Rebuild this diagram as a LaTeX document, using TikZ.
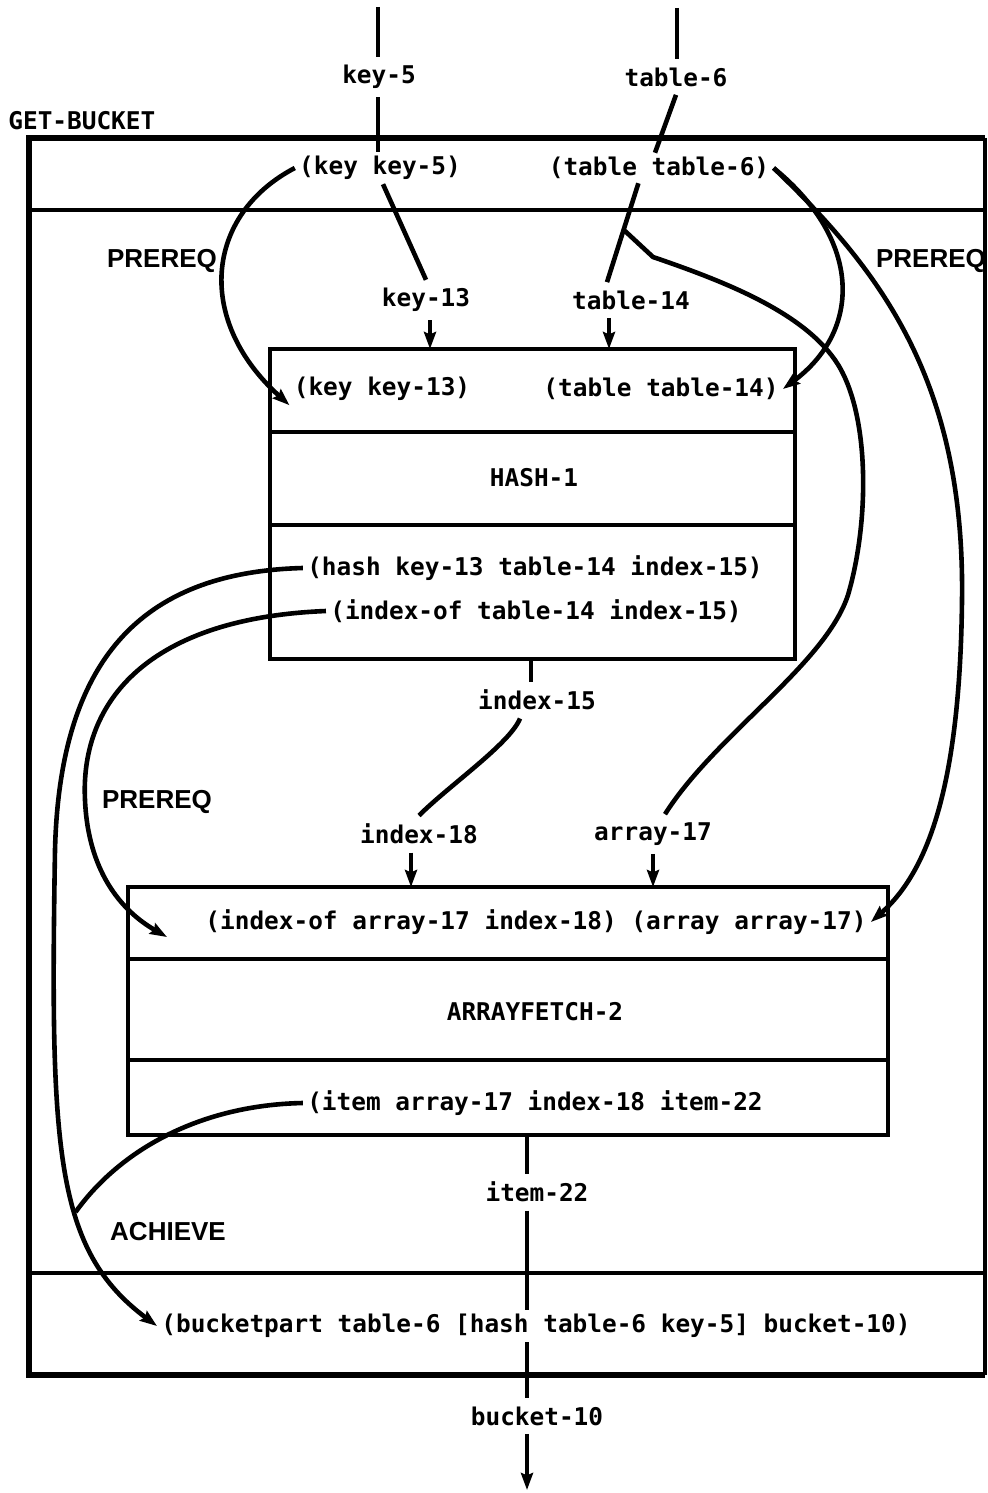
\documentclass[tikz,border=0pt]{standalone}
\usepackage{fontspec}
\newfontfamily\monofont{DejaVu Sans Mono}
\newfontfamily\tagfont{Liberation Sans}
\usetikzlibrary{arrows.meta,calc}

\begin{document}
\begin{tikzpicture}[x=0.5pt,y=-0.5pt,
  txt/.style={font=\monofont\bfseries\fontsize{12.2}{14}\selectfont, inner sep=2pt},
  var/.style={txt, inner sep=4pt},
  tag/.style={font=\tagfont\bfseries\fontsize{13}{15}\selectfont, inner sep=0pt},
  wire/.style={line width=2.3pt},
  flow/.style={wire, -{Stealth[length=8.5pt,width=6pt,inset=1.2pt]}},
  frame/.style={line width=3.4pt, line join=miter},
  cell/.style={line width=2.3pt},
  boxnode/.style={draw, cell, anchor=north west, inner sep=0pt, outer sep=0pt},
]
\useasboundingbox (0,0) rectangle (988,1493);

% outer GET-BUCKET frame
\coordinate (gbNW) at (29,138);
\coordinate (gbSE) at (985,1375);
\draw[frame] (gbSE |- gbNW) -- (gbNW) -- (gbNW |- gbSE) -- (gbSE);
\draw[line width=2.2pt] (gbSE |- gbNW) -- (gbSE);
\draw[line width=2.2pt] (29,210) -- (985,210);
\draw[line width=2.2pt] (29,1273) -- (985,1273);

% HASH-1 box
\node[boxnode, minimum width=262.5pt, minimum height=155pt] (hashbox) at (270,349) {};
\draw[cell] (270,432) -- (795,432);
\draw[cell] (270,525) -- (795,525);

% ARRAYFETCH-2 box
\node[boxnode, minimum width=380pt, minimum height=124pt] (arrbox) at (128,887) {};
\draw[cell] (128,959) -- (888,959);
\draw[cell] (128,1060) -- (888,1060);

% texts
\node[txt, anchor=west] (getbucket) at (4,121) {GET-BUCKET};
\node[var] (key5in) at (379,77) {key-5};
\node[var] (table6in) at (676,77) {table-6};
\node[txt] (key5) at (380,168) {(key key-5)};
\node[txt] (table6) at (659,168) {(table table-6)};
\node[var] (key13lbl) at (426,300) {key-13};
\node[var] (table14lbl) at (631,300) {table-14};
\node[txt] (key13) at (382,389) {(key key-13)};
\node[txt] (table14) at (661,389) {(table table-14)};
\node[txt] (hashname) at (534,478) {HASH-1};
\node[txt] (hashrel) at (535,568) {(hash key-13 table-14 index-15)};
\node[txt] (indexof1) at (536,611) {(index-of table-14 index-15)};
\node[var] (index15) at (537,700) {index-15};
\node[var] (index18) at (419,834) {index-18};
\node[var] (array17) at (653,834) {array-17};
\node[txt] (arrin) at (536,922) {(index-of array-17 index-18) (array array-17)};
\node[txt] (afname) at (535,1012) {ARRAYFETCH-2};
\node[txt] (itemrel) at (535,1103) {(item array-17 index-18 item-22};
\node[var] (item22) at (537,1192) {item-22};
\node[txt] (bucketpart) at (536,1326) {(bucketpart table-6 [hash table-6 key-5] bucket-10)};
\node[var] (bucket10) at (537,1416) {bucket-10};
\node[tag] (prereqA) at (162,261) {PREREQ};
\node[tag] (prereqB) at (931,261) {PREREQ};
\node[tag] (prereqC) at (157,802) {PREREQ};
\node[tag] (achieve) at (168,1232) {ACHIEVE};

% key-5 input
\coordinate (key5top) at (378,7);
\draw[wire] (key5top) -- (key5top |- key5in.north);
\draw[wire] (key5top |- key5in.south) -- (key5top |- key5.north);

% table-6 input
\coordinate (table6top) at (677,8);
\draw[wire] (table6top) -- (table6top |- table6in.north);
\draw[wire] (table6in.south) -- ($(table6.north)+(-4,0)$);

% key-5 -> key-13
\draw[wire] ($(key5.south)+(3,0)$) -- (key13lbl.north);
\coordinate (k13a) at ($(key13lbl.south)+(4,0)$);
\draw[flow] (k13a) -- (k13a |- hashbox.north);

% table-6 -> table-14, with branch to array-17
\coordinate (t6foot) at ($(table6.south west)!0.41!(table6.south east)$);
\coordinate (t14top) at ($(table14lbl.north)+(-24,0)$);
\draw[wire] (t6foot) -- (t14top);
\coordinate (t14a) at ($(table14lbl.south)+(-22,0)$);
\draw[flow] (t14a) -- (t14a |- hashbox.north);
\coordinate (t6branch) at ($(t6foot)!0.47!(t14top)$);
\coordinate (a17top) at ($(array17.north)+(12,0)$);
\draw[wire] (t6branch) -- (653,257) .. controls (720,280) and (800,310) .. (835,360)
  .. controls (870,410) and (870,520) .. (848,595)
  .. controls (825,665) and (715,735) .. (a17top);
\draw[flow] (array17.south) -- (array17.south |- arrbox.north);

% PREREQ links
\draw[flow] (key5.west) .. controls (205,215) and (195,320) .. (key13.south west);
\draw[flow] (table6.east) .. controls (862,240) and (862,330) .. (table14.east);
\draw[flow] (table6.east) .. controls (880,270) and (965,380) .. (962,600)
  .. controls (960,780) and (930,870) .. (arrin.east);

% index-15 -> index-18
\coordinate (i15x) at ($(index15.north)+(-6,0)$);
\draw[wire] (i15x |- hashbox.south) -- (i15x);
\draw[wire] ($(index15.south)+(-17,0)$) .. controls +(-10,25) and +(30,-30) .. (index18.north);
\coordinate (i18x) at ($(index18.south)+(-8,0)$);
\draw[flow] (i18x) -- (i18x |- arrbox.north);

% left-hand links
\draw[flow] (hashrel.west) .. controls (150,572) and (60,650) .. (55,850)
  .. controls (50,1150) and (55,1250) .. node[coordinate, pos=0.6] (merge) {} (bucketpart.west);
\coordinate (idxin) at (167,937);
\draw[flow] (indexof1.west) .. controls (150,618) and (80,700) .. (85,800)
  .. controls (88,870) and (120,910) .. (idxin);
\draw[wire] (itemrel.west) .. controls (200,1105) and (120,1150) .. (merge);

% item-22 -> bucket-10
\coordinate (itx) at ($(item22.north)+(-10,0)$);
\draw[wire] (itx |- arrbox.south) -- (itx);
\draw[wire] (itx |- item22.south) -- (itx |- bucketpart.north);
\draw[wire] (itx |- bucketpart.south) -- (itx |- bucket10.north);
\coordinate (bucketout) at (527,1490);
\draw[flow] (itx |- bucket10.south) -- (bucketout);
\end{tikzpicture}
\end{document}
